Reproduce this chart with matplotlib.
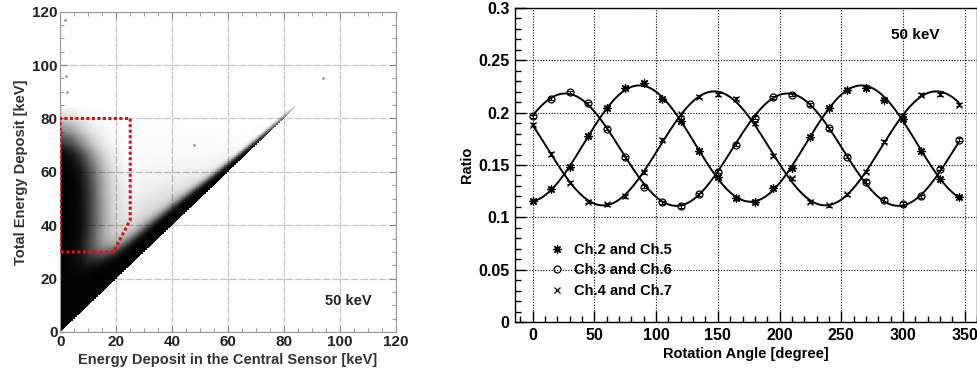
import numpy as np
import matplotlib
matplotlib.use("Agg")
import matplotlib.pyplot as plt
from matplotlib.lines import Line2D
from matplotlib.ticker import MultipleLocator, FixedLocator, FixedFormatter

# ---- left panel: scatter density, described by profiles ----
# diagonal band (total == central): dark core and sparse fuzz above the y=x edge
band_x = [0, 5, 10, 15, 20, 25, 30, 35, 40, 45, 50, 55, 60, 65, 70, 75, 80, 84]
band_core = [22, 17, 12, 9, 7, 6, 5.5, 5, 4.5, 4, 3.4, 2.8, 2.3, 1.9, 1.6, 1.3, 1.0, 0.8]
band_level = [9, 9, 9, 9, 8, 8, 8, 8, 8, 7, 6, 5, 4, 3, 2, 1.2, 0.6, 0.2]
band_fuzz = [5, 6, 8, 9, 10, 11, 11, 10, 9, 8, 7, 5.5, 4, 3.2, 2.6, 2, 1.5, 1.2]
fuzz_amp = [0, 0, 0.1, 0.3, 0.5, 0.6, 0.6, 0.55, 0.5, 0.4, 0.3, 0.25, 0.2, 0.12, 0.08, 0.05, 0.02, 0]
# blob of events with large total deposit and small central deposit
blob_x = [0, 2, 4, 6, 8, 10, 12, 14, 16, 18, 20, 23, 26]
blob_wx = [1.0, 0.9, 0.75, 0.55, 0.38, 0.25, 0.16, 0.1, 0.06, 0.035, 0.018, 0.006, 0]
blob_y = [10, 20, 25, 30, 35, 40, 45, 50, 55, 60, 65, 70, 75, 80, 85]
blob_wy = [0.05, 0.15, 0.3, 0.55, 0.85, 1.0, 1.0, 1.0, 0.95, 0.8, 0.55, 0.25, 0.1, 0.03, 0]
blob_level = 6.5
stray_x = [1.5, 2, 2.5, 94, 48]
stray_y = [117, 96, 90, 95, 70]
# selection window (red dotted)
cut_x = [0, 0, 25, 25, 19, 0]
cut_y = [30, 80, 80, 42, 30, 30]

# ---- right panel: ratio vs rotation angle ----
angle = list(range(0, 360, 15))
ch25 = [0.1152, 0.1267, 0.1484, 0.1781, 0.2040, 0.2237, 0.2285, 0.2129, 0.1925, 0.1637, 0.1388, 0.1184,
        0.1149, 0.1277, 0.1468, 0.1771, 0.2040, 0.2218, 0.2231, 0.2122, 0.1941, 0.1634, 0.1366, 0.1191]
ch36 = [0.1966, 0.2132, 0.2193, 0.2091, 0.1848, 0.1574, 0.1293, 0.1143, 0.1108, 0.1219, 0.1436, 0.1692,
        0.1953, 0.2145, 0.2170, 0.2081, 0.1851, 0.1580, 0.1341, 0.1165, 0.1127, 0.1203, 0.1465, 0.1740]
ch47 = [0.1886, 0.1605, 0.1331, 0.1149, 0.1124, 0.1203, 0.1430, 0.1740, 0.1985, 0.2154, 0.2177, 0.2132,
        0.1899, 0.1589, 0.1372, 0.1149, 0.1117, 0.1219, 0.1436, 0.1724, 0.1969, 0.2170, 0.2177, 0.2075]
err = 0.0015
labels = ["Ch.2 and Ch.5", "Ch.3 and Ch.6", "Ch.4 and Ch.7"]
ytick_vals = [0, 0.05, 0.1, 0.15, 0.2, 0.25, 0.3]
ytick_labels = ["0", "0.05", "0.1", "0.15", "0.2", "0.25", "0.3"]

fig = plt.figure(figsize=(9.78, 3.75), dpi=100)

# ================= left =================
axl = fig.add_axes([0.0617, 0.1147, 0.3429, 0.8541])
gx = np.arange(0, 120, 0.25) + 0.125
X, Y = np.meshgrid(gx, gx)
above = Y - X
core = np.interp(X, band_x, band_core, right=0.5)
lvl = np.interp(X, band_x, band_level, right=0)
fuzz = np.interp(X, band_x, band_fuzz, right=0.5)
famp = np.interp(X, band_x, fuzz_amp, right=0)
dens = lvl * np.exp(-(above / core) ** 2) + famp * np.exp(-above / fuzz)
dens += blob_level * np.interp(X, blob_x, blob_wx, right=0) * np.interp(Y, blob_y, blob_wy, left=0, right=0)
dens = np.where(above >= 0, dens, 0)
img = np.zeros(dens.shape + (4,))
img[..., 3] = 1 - np.exp(-dens)
axl.imshow(img, extent=[0, 120, 0, 120], origin="lower", interpolation="nearest",
           aspect="auto", zorder=2)
axl.scatter(stray_x, stray_y, s=1, c="#999999", zorder=2)
axl.plot(cut_x, cut_y, color="#e01010", lw=2.2, ls=(0, (1, 0.8)), zorder=3)
axl.set_xlim(0, 120)
axl.set_ylim(0, 120)
axl.xaxis.set_major_locator(MultipleLocator(20))
axl.yaxis.set_major_locator(MultipleLocator(20))
axl.xaxis.set_minor_locator(MultipleLocator(5))
axl.yaxis.set_minor_locator(MultipleLocator(5))
axl.grid(True, which="major", color="#c4c4c4", lw=0.9, ls=(0, (6, 1.5)), zorder=0)
axl.tick_params(which="both", direction="in", top=True, right=True, color="#888888",
                labelsize=11, labelcolor="#222222", pad=2)
axl.tick_params(which="major", length=5)
axl.tick_params(which="minor", length=3)
for lab in axl.get_xticklabels() + axl.get_yticklabels():
    lab.set_fontweight("bold")
    lab.set_family("Liberation Sans")
for s in axl.spines.values():
    s.set_color("#999999")
axl.set_xlabel("Energy Deposit in the Central Sensor [keV]", fontsize=10.5, fontweight="bold",
               family="Liberation Sans", color="#333333", labelpad=3)
axl.set_ylabel("Total Energy Deposit [keV]", fontsize=10.5, fontweight="bold",
               family="Liberation Sans", color="#333333", labelpad=3)
axl.text(103, 11.5, "50 keV", fontsize=10.5, fontweight="bold", family="Liberation Sans",
         color="#222222", ha="center", va="center")

# ================= right =================
axr = fig.add_axes([0.5266, 0.1413, 0.4724, 0.8374])
a = np.array(angle, dtype=float)
fine = np.linspace(0, 345, 400)
markers = [(8, 2, 0), "o", "x"]
sizes = [6, 5, 5]
for vals, mk, ms in zip([ch25, ch36, ch47], markers, sizes):
    # fit p0 + p1 cos(2a) + p2 sin(2a) to the read points
    A = np.column_stack([np.ones_like(a), np.cos(np.radians(2 * a)), np.sin(np.radians(2 * a))])
    p = np.linalg.lstsq(A, np.array(vals), rcond=None)[0]
    Af = np.column_stack([np.ones_like(fine), np.cos(np.radians(2 * fine)), np.sin(np.radians(2 * fine))])
    axr.plot(fine, Af @ p, color="black", lw=1.4, zorder=3)
    axr.errorbar(angle, vals, yerr=err, fmt="none", ecolor="black", elinewidth=0.8,
                 capsize=2.2, capthick=0.8, zorder=4)
    axr.plot(angle, vals, ls="none", marker=mk, ms=ms, mfc="none", mec="black", mew=0.9, zorder=5)

handles = [Line2D([], [], ls="none", marker=m, ms=s, mfc="none", mec="black", mew=0.9)
           for m, s in zip(markers, sizes)]
leg = axr.legend(handles, labels, loc="upper left", bbox_to_anchor=(0.075, 0.252), frameon=False,
                 prop={"family": "Liberation Sans", "weight": "bold", "size": 10.5},
                 handlelength=1.0, handletextpad=0.7, labelspacing=0.45, borderpad=0,
                 borderaxespad=0)

axr.set_xlim(-14.3, 360)
axr.set_ylim(0, 0.3)
axr.xaxis.set_major_locator(MultipleLocator(50))
axr.xaxis.set_minor_locator(MultipleLocator(10))
axr.yaxis.set_major_locator(FixedLocator(ytick_vals))
axr.yaxis.set_major_formatter(FixedFormatter(ytick_labels))
axr.yaxis.set_minor_locator(MultipleLocator(0.01))
axr.grid(True, which="major", color="black", lw=0.8, ls=(0, (1, 1.5)), zorder=1)
axr.tick_params(which="both", direction="in", top=False, right=False, color="black",
                labelsize=11.5, pad=4)
axr.tick_params(which="major", length=8, width=1)
axr.tick_params(which="minor", length=4, width=1)
for lab in axr.get_xticklabels() + axr.get_yticklabels():
    lab.set_fontweight("bold")
    lab.set_family("Liberation Sans")
for s in axr.spines.values():
    s.set_linewidth(1.0)
axr.set_xlabel("Rotation Angle [degree]", fontsize=10.5, fontweight="bold",
               family="Liberation Sans", labelpad=3)
axr.set_ylabel("Ratio", fontsize=10.5, fontweight="bold", family="Liberation Sans", labelpad=3)
axr.text(290, 0.2745, "50 keV", fontsize=11, fontweight="bold", family="Liberation Sans",
         ha="left", va="center")

fig.savefig("out.png", dpi=100)
